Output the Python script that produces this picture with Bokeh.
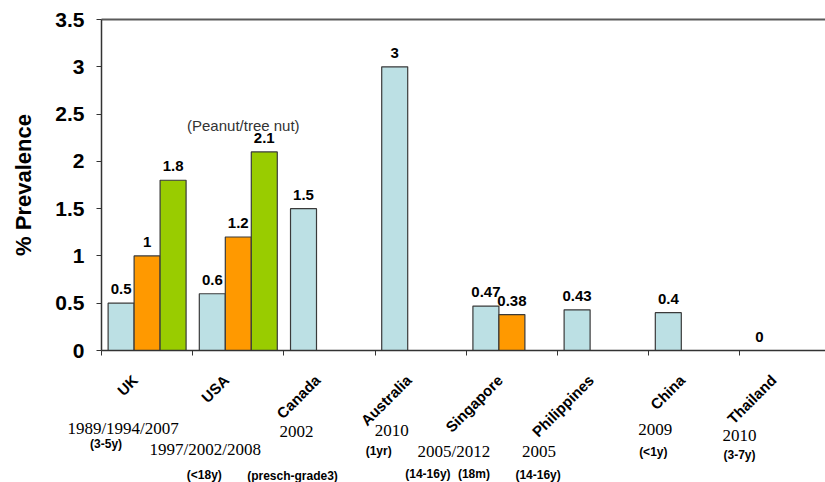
import math
from bokeh.plotting import figure
from bokeh.models import (Range1d, FixedTicker, NumeralTickFormatter,
                          Label, LabelSet, ColumnDataSource, LinearAxis)
from bokeh.core.properties import value
from bokeh.embed import file_html
from bokeh.resources import INLINE

# ---------------- data ----------------
categories = ["UK", "USA", "Canada", "Australia", "Singapore", "Philippines", "China", "Thailand"]
series_a = [0.5, 0.6, 1.5, 3.0, 0.47, 0.43, 0.4, 0.0]
series_b = [1.0, 1.2, None, None, 0.38, None, None, None]
series_c = [1.8, 2.1, None, None, None, None, None, None]
series_colors = ["#BCE0E4", "#FF9900", "#99CC00"]
years = ["1989/1994/2007", "1997/2002/2008", "2002", "2010", "2005/2012", "2005", "2009", "2010"]
ages = [["(3-5y)"], ["(<18y)"], ["(presch-grade3)"], ["(1yr)"],
        ["(14-16y)", "(18m)"], ["(14-16y)"], ["(<1y)"], ["(3-7y)"]]
y_ticks = [0, 0.5, 1, 1.5, 2, 2.5, 3, 3.5]
note_text = "(Peanut/tree nut)"
note_category = "USA"

# ---------------- layout ----------------
W, H = 825, 482
LEFT_PX = 101      # canvas x of the y axis
CAT_PX = 91.2      # width of one category
TOP_PX = 19        # canvas y of the 3.5 line
ZERO_PX = 350      # canvas y of the 0 line
year_offsets = [(-24, -78), (-33, -99), (-33, -81), (-29, -80), (-58, -101), (-64, -101), (-39, -79), (-46, -85)]
age_offsets = [[(-41, -93)], [(-34, -124)], [(-37, -125)], [(-42, -100)],
               [(-84, -123), (-38, -123)], [(-65, -124)], [(-41, -101)], [(-46, -104)]]

n = len(categories)
x_min = -LEFT_PX / CAT_PX
x_max = (W - LEFT_PX) / CAT_PX
y_top = y_ticks[-1]
ppu = (ZERO_PX - TOP_PX) / (y_top - y_ticks[0])
y_max = y_top + TOP_PX / ppu
y_min = y_ticks[0] - (H - ZERO_PX) / ppu

bar_w = 0.285
dodge = [-bar_w, 0.0, bar_w]

p = figure(width=W, height=H, x_range=Range1d(x_min, x_max), y_range=Range1d(y_min, y_max),
           output_backend="svg", toolbar_location=None,
           x_axis_location=None, y_axis_location=None,
           min_border=0)
p.outline_line_color = None
p.xgrid.visible = False
p.ygrid.visible = False
p.background_fill_color = "white"

SANS = "Liberation Sans"
SERIF = "Liberation Serif"

# bars
for k, (vals, col) in enumerate(zip([series_a, series_b, series_c], series_colors)):
    xs, tops, txt = [], [], []
    for i, v in enumerate(vals):
        if v is None:
            continue
        xs.append(i + 0.5 + dodge[k])
        tops.append(v)
        txt.append(f"{v:g}")
    src = ColumnDataSource(dict(x=xs, top=tops, text=txt))
    p.vbar(x="x", top="top", bottom=0, width=bar_w, source=src,
           fill_color=col, line_color="#3a3a3a", line_width=1.2)
    p.add_layout(LabelSet(x="x", y="top", text="text", source=src, y_offset=9,
                          text_align="center", text_baseline="alphabetic",
                          text_font=value(SANS), text_font_style="bold",
                          text_font_size="15px", text_color="black"))

# note above USA green bar
ni = categories.index(note_category)
p.add_layout(Label(x=ni + 0.5, y=series_c[ni], text=note_text, x_offset=5, y_offset=26,
                   text_align="center", text_baseline="alphabetic",
                   text_font=SANS, text_font_size="15px", text_color="#333333"))

# y axis at x = 0, drawn between 0 and 3.5
ya = LinearAxis(fixed_location=0, bounds=(y_ticks[0], y_ticks[-1]), ticker=FixedTicker(ticks=y_ticks),
                formatter=NumeralTickFormatter(format="0.[0]"))
ya.axis_label = "% Prevalence"
ya.axis_label_text_font = SANS
ya.axis_label_text_font_style = "bold"
ya.axis_label_text_font_size = "22px"
ya.axis_label_text_color = "black"
ya.axis_label_standoff = 16
ya.major_label_text_font = SANS
ya.major_label_text_font_style = "bold"
ya.major_label_text_font_size = "21px"
ya.major_label_text_color = "black"
ya.major_label_standoff = 12
ya.major_tick_out = 5
ya.major_tick_in = 0
ya.minor_tick_out = 0
ya.minor_tick_in = 0
ya.axis_line_color = "#333333"
ya.axis_line_width = 1.5
ya.major_tick_line_color = "#333333"
p.add_layout(ya, "left")

# x axis line at y = 0 with ticks at category boundaries (no tick labels)
xa = LinearAxis(fixed_location=0, bounds=(0, n), ticker=FixedTicker(ticks=list(range(n + 1))))
xa.major_label_text_color = None
xa.major_tick_out = 5
xa.major_tick_in = 0
xa.minor_tick_out = 0
xa.minor_tick_in = 0
xa.axis_line_color = "#333333"
xa.axis_line_width = 1.5
xa.major_tick_line_color = "#333333"
p.add_layout(xa, "below")

# top border line at 3.5
ta = LinearAxis(fixed_location=y_top, bounds=(0, n), ticker=FixedTicker(ticks=[]))
ta.major_label_text_color = None
ta.major_tick_line_color = None
ta.minor_tick_line_color = None
ta.axis_line_color = "#5a5a5a"
ta.axis_line_width = 2
p.add_layout(ta, "above")

for i, cat in enumerate(categories):
    cx = i + 0.5
    p.add_layout(Label(x=cx, y=0, text=cat, x_offset=-12, y_offset=-27, angle=math.pi / 4,
                       text_align="right", text_baseline="middle",
                       text_font=SANS, text_font_style="bold", text_font_size="15px",
                       text_color="black"))
    yo = year_offsets[i]
    p.add_layout(Label(x=cx, y=0, text=years[i], x_offset=yo[0], y_offset=yo[1],
                       text_align="center", text_baseline="middle",
                       text_font=SERIF, text_font_size="17px", text_color="black"))
    for a, ao in zip(ages[i], age_offsets[i]):
        p.add_layout(Label(x=cx, y=0, text=a, x_offset=ao[0], y_offset=ao[1],
                           text_align="center", text_baseline="middle",
                           text_font=SANS, text_font_style="bold", text_font_size="12px",
                           text_color="black"))

open("out.html", "w").write(file_html(p, INLINE))
